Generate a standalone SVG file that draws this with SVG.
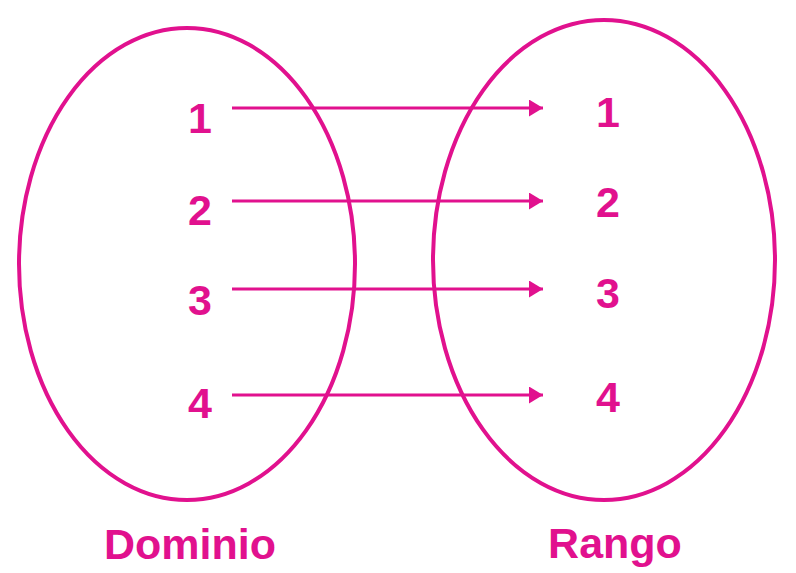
<svg xmlns="http://www.w3.org/2000/svg" width="796" height="573" viewBox="0 0 796 573">
<style>
.set{fill:none;stroke:#E1118E;stroke-width:4}
.num{font-family:"Liberation Sans",Arial,sans-serif;font-weight:bold;font-size:43px;fill:#E1118E;text-anchor:middle}
.lbl{font-family:"Liberation Sans",Arial,sans-serif;font-weight:bold;font-size:43px;fill:#E1118E;text-anchor:middle}
.arr{stroke:#E1118E;stroke-width:3;fill:none}
</style>
<defs>
<marker id="ah" markerUnits="userSpaceOnUse" markerWidth="14" markerHeight="17" refX="14" refY="8.5" orient="auto">
<path d="M0,0 L14,8.5 L0,17 Z" fill="#E1118E"/>
</marker>
</defs>
<rect width="796" height="573" fill="#fff"/>
<g id="dominio">
<ellipse class="set" cx="187" cy="264" rx="168" ry="236"/>
<text class="num" x="200" y="133">1</text>
<text class="num" x="200" y="225">2</text>
<text class="num" x="200" y="315">3</text>
<text class="num" x="200" y="418">4</text>
<text class="lbl" x="190" y="559">Dominio</text>
</g>
<g id="rango">
<ellipse class="set" cx="604" cy="260" rx="171" ry="240"/>
<text class="num" x="608" y="127">1</text>
<text class="num" x="608" y="217">2</text>
<text class="num" x="608" y="308">3</text>
<text class="num" x="608" y="412">4</text>
<text class="lbl" x="615" y="558">Rango</text>
</g>
<g id="connectors">
<line class="arr" x1="232" y1="108" x2="543" y2="108" marker-end="url(#ah)"/>
<line class="arr" x1="232" y1="201" x2="543" y2="201" marker-end="url(#ah)"/>
<line class="arr" x1="232" y1="289" x2="543" y2="289" marker-end="url(#ah)"/>
<line class="arr" x1="232" y1="395" x2="543" y2="395" marker-end="url(#ah)"/>
</g>
</svg>
